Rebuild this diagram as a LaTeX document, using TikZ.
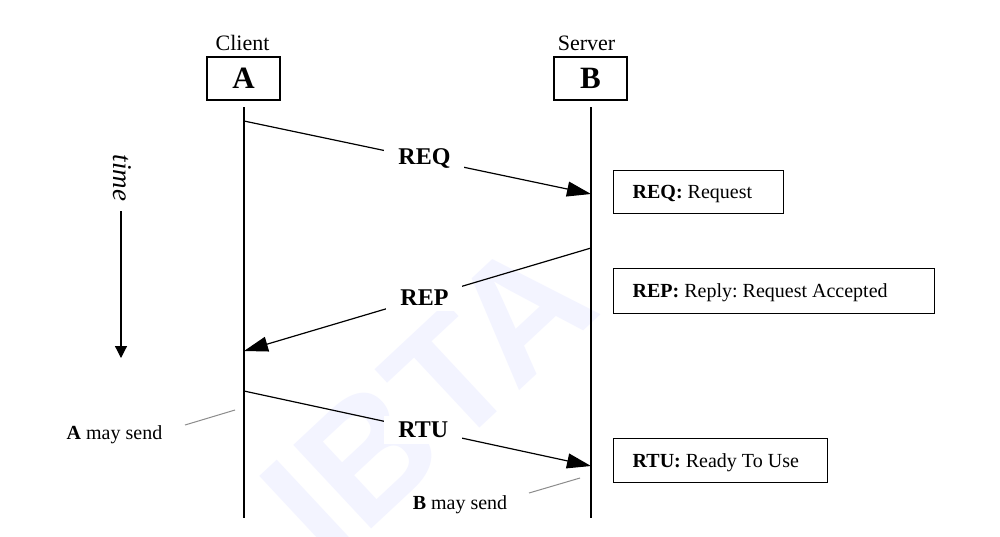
\documentclass[tikz,border=0pt]{standalone}
\usepackage{fontspec}
\setmainfont{Liberation Serif}
\newfontfamily\wmfont{Liberation Sans}
\usetikzlibrary{arrows.meta}
\definecolor{wmcol}{RGB}{243,244,255}
\definecolor{leadcol}{RGB}{140,140,140}
\frenchspacing
\begin{document}
\begin{tikzpicture}[x=0.5pt,y=-0.5pt,
  party/.style={draw, line width=1.25pt, minimum width=36.5pt, minimum height=21.5pt, inner sep=0pt,
    font=\fontsize{15.5}{18}\selectfont\bfseries},
  role/.style={font=\fontsize{11}{13}\selectfont, anchor=base, inner sep=0pt},
  life/.style={line width=1.2pt},
  msg/.style={line width=0.6pt, -{Triangle[length=12pt,width=7.5pt]}},
  msglabel/.style={fill=white, font=\fontsize{12}{14}\selectfont\bfseries, inner xsep=7pt, inner ysep=3pt},
  notebox/.style={draw, line width=0.7pt, anchor=north west, inner xsep=9.5pt, inner ysep=0pt, align=flush left,
    font=\fontsize{10}{12}\selectfont, text height=6.6pt, text depth=0pt},
  leader/.style={draw=leadcol, line width=0.5pt},
  sendlabel/.style={font=\fontsize{10}{12}\selectfont, anchor=base, inner sep=0pt},
  watermark/.style={font=\wmfont\bfseries\fontsize{83}{90}\selectfont, text=wmcol, anchor=base, inner sep=0pt}
]
\useasboundingbox (0,0) rectangle (1000,536);
\fill[white] (0,0) rectangle (1000,536);

% watermark
\node[watermark, rotate=43] (wm) at (467,440) {IBTA};

% parties
\node[party] (A) at (243.5,78.5) {A};
\node[party] (B) at (590.5,78.5) {B};
\node[role] (client) at (242.5,50) {Client};
\node[role] (server) at (586.5,50) {Server};

% lifelines
\coordinate (Atop) at (244,107);
\coordinate (Abot) at (244,518);
\coordinate (Btop) at (591,107);
\coordinate (Bbot) at (591,518);
\draw[life] (Atop) -- (Abot);
\draw[life] (Btop) -- (Bbot);

% messages
\coordinate (req1) at (244,121);
\coordinate (req2) at (591,194);
\coordinate (rep1) at (591,248);
\coordinate (rep2) at (244,351);
\coordinate (rtu1) at (244,391);
\coordinate (rtu2) at (591,466);
\draw[msg] (req1) -- node[msglabel, pos=0.52] (reqL) {REQ} (req2);
\draw[msg] (rep1) -- node[msglabel, pos=0.48] (repL) {REP} (rep2);
\draw[msg] (rtu1) -- node[msglabel, pos=0.517] (rtuL) {RTU} (rtu2);

% notes
\node[notebox, minimum width=85pt, minimum height=21.5pt, text width=66pt] (nreq) at (613,170) {\textbf{REQ:} Request};
\node[notebox, minimum width=160.5pt, minimum height=22.5pt, text width=141.5pt] (nrep) at (613,268) {\textbf{REP:} Reply: Request Accepted};
\node[notebox, minimum width=107pt, minimum height=22pt, text width=88pt] (nrtu) at (613,438) {\textbf{RTU:} Ready To Use};

% time axis
\node[font=\fontsize{13.5}{16}\selectfont\itshape, rotate=-90] (time) at (122,178) {time};
\coordinate (t1) at (121,211);
\coordinate (t2) at (121,358);
\draw[line width=0.6pt, -{Triangle[length=6pt,width=6pt]}] (t1) -- (t2);

% may send
\node[sendlabel] (amay) at (114.5,439) {\textbf{A} may send};
\node[sendlabel] (bmay) at (460,509) {\textbf{B} may send};
\coordinate (la1) at (185,425);
\coordinate (la2) at (235,410);
\coordinate (lb1) at (529,493);
\coordinate (lb2) at (580,478);
\draw[leader] (la1) -- (la2);
\draw[leader] (lb1) -- (lb2);
\end{tikzpicture}
\end{document}
